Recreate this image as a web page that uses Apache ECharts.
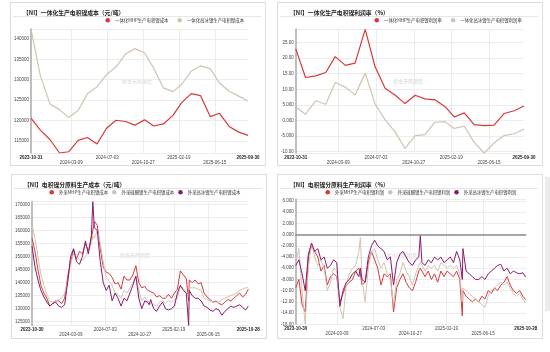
<!DOCTYPE html>
<html>
<head>
<meta charset="utf-8">
<script src="https://cdn.jsdelivr.net/npm/echarts@6/dist/echarts.min.js"></script>
<style>
  html, body { margin: 0; padding: 0; background: #fff; }
  .panel { position: absolute; border: 1px solid #dcdcdc; box-sizing: border-box; background: #fff; }
  .edge { position: absolute; left: 545px; top: 177px; width: 5px; height: 134px; background: #ececec; }
</style>
</head>
<body>
<div id="p1" class="panel" style="left:10px;top:2px;width:256px;height:164px"></div>
<div id="p2" class="panel" style="left:277px;top:2px;width:266px;height:164px"></div>
<div id="p3" class="panel" style="left:11px;top:174px;width:256px;height:165px"></div>
<div id="p4" class="panel" style="left:277px;top:174px;width:266px;height:165px"></div>
<div class="edge"></div>
<script>
// monthly points (top panels)
const monthDates = ["2023-10-31", "2023-11-30", "2023-12-31", "2024-01-31", "2024-02-29", "2024-03-31",
  "2024-04-30", "2024-05-31", "2024-06-30", "2024-07-31", "2024-08-31", "2024-09-30", "2024-10-31",
  "2024-11-30", "2024-12-31", "2025-01-31", "2025-02-28", "2025-03-31", "2025-04-30", "2025-05-31",
  "2025-06-30", "2025-07-31", "2025-08-31", "2025-09-30"];
const mhpCost = [120600, 117700, 115400, 112100, 112400, 115200, 115900, 114300, 118100, 120100, 119800, 118900,
  120200, 118700, 119200, 121300, 124400, 126600, 126100, 121000, 121800, 118600, 117200, 116400];
const matteCost = [142400, 131000, 124100, 122700, 120800, 122500, 126600, 128300, 131200, 133100, 136300, 137600,
  136600, 132800, 128000, 127100, 128900, 132100, 133400, 132700, 129200, 127200, 126000, 124800];
const mhpMargin = [23.0, 13.8, 14.3, 15.4, 20.5, 17.7, 18.4, 29.3, 17.3, 10.3, 8.1, 5.4,
  8.1, 6.9, 6.6, 4.4, 1.1, 2.4, -1.4, -1.7, -1.5, 2.2, 3.1, 4.6];
const matteMargin = [4.3, 2.0, 6.3, 5.2, 12.2, 10.7, 8.2, 15.2, 5.3, 0.2, -3.8, -9.0,
  -4.9, -4.6, -0.6, -0.4, -2.6, -1.9, -7.1, -10.5, -7.3, -4.9, -4.3, -2.8];

// sampled daily points (bottom panels)
const dayDates = ["2023-10-30", "2023-11-09", "2023-11-19", "2023-11-29", "2023-12-09", "2023-12-19", "2023-12-29",
  "2024-01-08", "2024-01-18", "2024-01-28", "2024-02-07", "2024-02-17", "2024-02-27", "2024-03-08", "2024-03-18",
  "2024-03-28", "2024-04-07", "2024-04-17", "2024-04-27", "2024-05-07", "2024-05-17", "2024-05-22", "2024-05-27",
  "2024-06-06", "2024-06-16", "2024-06-26", "2024-07-06", "2024-07-16", "2024-07-26", "2024-08-05", "2024-08-15",
  "2024-08-25", "2024-09-04", "2024-09-14", "2024-09-24", "2024-10-04", "2024-10-14", "2024-10-24", "2024-11-03",
  "2024-11-13", "2024-11-23", "2024-11-28", "2024-12-03", "2024-12-13", "2024-12-23", "2025-01-02", "2025-01-12",
  "2025-01-22", "2025-02-01", "2025-02-11", "2025-02-21", "2025-03-03", "2025-03-13", "2025-03-23", "2025-04-02",
  "2025-04-10", "2025-04-12", "2025-04-22", "2025-05-02", "2025-05-12", "2025-05-22", "2025-06-01", "2025-06-11",
  "2025-06-21", "2025-07-01", "2025-07-11", "2025-07-21", "2025-07-31", "2025-08-10", "2025-08-20", "2025-08-30",
  "2025-09-09", "2025-09-19", "2025-09-29", "2025-10-09", "2025-10-19", "2025-10-28"];
const buyMhpCost = [157000, 152000, 145000, 139000, 136000, 134000, 131000, 132000, 133000, 133000, 132000, 134000,
  142000, 148000, 152500, 149000, 152000, 151000, 155000, 152000, 157000, 160000, 163500, 162000, 153000, 146000,
  144000, 143500, 142000, 139500, 140000, 137500, 142500, 141000, 141000, 143000, 146500, 140000, 138000, 138500,
  137000, 137500, 136500, 136000, 134500, 135000, 134000, 134000, 135500, 134000, 136000, 137500, 144500, 143000,
  141500, 133000, 141000, 140000, 141000, 139500, 140000, 136000, 134500, 133500, 132500, 133000, 132000, 131500,
  132500, 133500, 133000, 134000, 135000, 136000, 134500, 135500, 137500];
const buySulfateCost = [162000, 157000, 150000, 143000, 139000, 135500, 133000, 132500, 133000, 133500, 134000, 136000,
  140000, 147000, 151000, 150000, 149000, 148500, 150000, 152000, 155000, 158000, 157000, 160000, 155000, 148000,
  142000, 140500, 139000, 136000, 135500, 134000, 137000, 136000, 138000, 140000, 142500, 137000, 133000, 134500,
  133000, 132500, 132000, 131500, 131000, 132500, 133000, 132000, 133000, 132500, 133500, 134000, 138500, 138000,
  136000, 134500, 138000, 138000, 138000, 137500, 137000, 134000, 133500, 133000, 132500, 132500, 132500, 133500,
  134000, 134500, 135000, 135500, 136000, 137000, 137500, 138000, 138000];
const buyMatteCost = [154000, 146000, 141000, 137000, 134500, 132500, 131000, 132000, 132500, 131000, 130500, 131500,
  140000, 150000, 153000, 148000, 147000, 150000, 156000, 151000, 158000, 171000, 161000, 160000, 148000, 140000,
  137000, 139000, 133000, 136000, 134000, 131000, 134000, 133000, 136000, 139000, 142500, 134000, 130000, 133000,
  132500, 131500, 133500, 130000, 129000, 131000, 132500, 130000, 129500, 130000, 131000, 136000, 139000, 137000,
  136000, 123600, 137000, 135000, 134000, 134000, 133000, 131000, 130500, 129500, 129000, 130000, 129500, 127500,
  129000, 130000, 131000, 130500, 131000, 131500, 130500, 129500, 131000];
const buyMhpMargin = [-9.5, -8.0, -12.5, -13.8, -4.0, -2.0, -3.0, -4.0, -6.5, -5.5, -9.0, -7.5, -7.0, -7.5, -12.0,
  -10.5, -9.0, -8.5, -8.0, -6.5, -6.0, -7.0, -9.0, -8.5, -5.0, -3.0, -4.5, -6.0, -9.0, -7.0, -7.5, -7.0, -13.8,
  -9.5, -8.0, -7.0, -8.5, -9.5, -10.0, -8.5, -6.5, -6.0, -6.5, -7.5, -6.5, -8.0, -7.0, -8.5, -6.5, -7.5, -6.5,
  -7.0, -7.5, -6.5, -8.0, -14.5, -10.0, -11.0, -11.5, -12.0, -11.5, -12.0, -11.0, -11.5, -10.0, -10.5, -9.5,
  -10.0, -9.0, -8.5, -7.5, -9.0, -10.0, -10.5, -10.0, -11.0, -11.6];
const buySulfateMargin = [-5.0, -2.5, -10.0, -16.0, -6.0, -1.5, -4.0, -5.5, -4.5, -6.0, -10.0, -8.5, -6.0, -6.5,
  -13.0, -15.0, -9.0, -7.0, -6.0, -5.5, -3.0, -0.5, -8.0, -12.0, -6.0, -3.0, -2.5, -4.5, -6.0, -5.0, -7.0, -8.0,
  -12.5, -8.0, -7.0, -5.0, -6.5, -7.5, -9.0, -7.0, -5.5, -5.0, -5.5, -6.5, -5.5, -6.0, -5.5, -6.5, -5.0, -5.5,
  -6.0, -5.5, -6.0, -5.5, -7.0, -12.0, -9.5, -10.0, -10.5, -11.0, -11.5, -12.0, -12.5, -13.0, -11.0, -10.0, -9.5,
  -9.0, -8.5, -9.0, -8.5, -9.5, -10.5, -11.0, -10.5, -11.5, -12.2];
const buyMatteMargin = [-5.5, -4.5, -7.0, -10.0, -3.5, -1.5, -3.0, -2.5, -4.5, -4.0, -6.0, -5.5, -4.5, -5.0, -12.8,
  -10.0, -8.5, -8.0, -7.0, -6.5, -7.5, -6.0, -8.0, -8.5, -4.0, -2.0, -1.0, -2.0, -2.5, -3.0, -4.5, -4.0, -9.0,
  -5.0, -3.5, -3.0, -4.0, -5.0, -5.5, -4.5, -4.0, -0.2, -5.0, -5.5, -4.5, -5.0, -4.0, -4.5, -4.0, -5.0, -4.5,
  -4.0, -5.0, -3.0, -4.5, -8.0, -2.5, -6.5, -7.0, -7.5, -8.0, -8.0, -7.5, -8.0, -7.0, -6.5, -6.0, -5.5, -5.3,
  -6.5, -6.0, -7.0, -6.5, -6.8, -7.0, -6.8, -7.6];

// x-axis tick labels
const midTicks = ["2024-03-09", "2024-07-03", "2024-10-27", "2025-02-19", "2025-06-15"];
const lowerRowTicks = ["2024-03-09", "2024-10-27", "2025-06-15"];

const RED = "#d8383a";
const TAN = "#d0c3b1";
const PURPLE = "#8b1a6c";
const FONT = "'Liberation Sans', 'Noto Sans CJK SC', sans-serif";

// date string <-> timestamp for the value x axis
const ts = (s) => new Date(s + "T00:00:00").getTime();
function fmtDate(v) {
  const d = new Date(v);
  const p = (n) => (n < 10 ? "0" : "") + n;
  return d.getFullYear() + "-" + p(d.getMonth() + 1) + "-" + p(d.getDate());
}
const intFmt = (v) => String(Math.round(v));
const pctFmt = (v) => Number(v).toPrecision(4);

function buildOption(cfg) {
  const xMin = cfg.dates[0];
  const xMax = cfg.dates[cfg.dates.length - 1];
  const tickTs = midTicks.map(ts);
  return {
    animation: false,
    textStyle: { fontFamily: FONT },
    title: {
      text: cfg.title, left: 7, top: 1.5,
      textStyle: { fontSize: 5.8, fontWeight: "bold", color: "#222", fontFamily: "'Noto Sans CJK SC', sans-serif" },
    },
    legend: {
      left: cfg.legendLeft, top: 15, icon: "circle", itemWidth: 4.5, itemHeight: 4.5, itemGap: cfg.legendGap,
      width: 240, padding: 0,
      textStyle: { fontSize: 4.4, color: "#333", fontFamily: "'Noto Sans CJK SC', sans-serif" },
    },
    graphic: [
      { type: "line", shape: { x1: 2, y1: 13.5, x2: cfg.width - 4, y2: 13.5 }, style: { stroke: "#e6e6e6", lineWidth: 1 }, silent: true },
      { type: "text", x: cfg.mark[0], y: cfg.mark[1], z: 0, silent: true,
        style: { text: "紫金天风期货", fill: "#d2d2d2", fontSize: 5, fontFamily: "'Noto Sans CJK SC'", align: "center", verticalAlign: "middle" } },
    ],
    grid: cfg.grid,
    xAxis: {
      type: "value", min: ts(xMin), max: ts(xMax),
      axisLine: { show: !!cfg.zeroLine, onZero: true, lineStyle: { color: "#8c8c8c", width: 1.5 } },
      axisTick: { show: false, customValues: tickTs },
      splitLine: { show: true, lineStyle: { color: "#ececec", width: 1 } },
      axisLabel: {
        customValues: [ts(xMin)].concat(tickTs, [ts(xMax)]),
        fontSize: 4.5, color: "#444", margin: 2, lineHeight: 5, hideOverlap: false,
        formatter: (v) => {
          const s = fmtDate(v);
          if (s === xMin || s === xMax) return "{b|" + s + "}";
          return lowerRowTicks.indexOf(s) >= 0 ? "\n" + s : s;
        },
        rich: { b: { fontSize: 4.5, fontWeight: "bold", color: "#222", lineHeight: 5 } },
      },
    },
    yAxis: Object.assign({
      type: "value",
      axisLine: { show: true, lineStyle: { color: "#a8a8a8", width: 1.5 } },
      axisTick: { show: false },
      splitLine: { lineStyle: { color: "#ececec" } },
      axisLabel: { fontSize: 4.5, color: "#444", margin: 2, showMinLabel: !!cfg.showMin, showMaxLabel: false, formatter: cfg.yFmt },
    }, cfg.yScale),
    series: cfg.series.map((s) => ({
      type: "line", name: s.name, symbol: "none", showSymbol: false,
      data: cfg.dates.map((d, i) => [ts(d), s.values[i]]),
      lineStyle: { width: cfg.lineWidth, color: s.color },
      itemStyle: { color: s.color },
      markLine: s.box ? {
        silent: true, symbol: "none", lineStyle: { opacity: 0 },
        label: {
          position: "start", distance: 3, fontSize: 4.5, color: "#fff",
          backgroundColor: s.box, padding: [1, 1.5],
          formatter: (p) => cfg.yFmt(p.value),
        },
        data: [{ yAxis: s.values[s.values.length - 1] }],
      } : undefined,
    })),
  };
}

const panels = [
  { id: "p1", width: 254, title: "【NI】一体化生产电积镍成本（元/吨）", dates: monthDates, legendLeft: 94.5, legendGap: 9,
    grid: { left: 19.5, right: 17, top: 26, bottom: 11.5 }, mark: [126, 78], yFmt: intFmt, lineWidth: 1.2,
    yScale: { min: "dataMin", max: "dataMax", splitNumber: 5 },
    series: [
      { name: "一体化MHP生产电积镍成本", values: mhpCost, color: RED, box: "#8e1f6e" },
      { name: "一体化高冰镍生产电积镍成本", values: matteCost, color: TAN, box: "#5b5aa8" },
    ] },
  { id: "p2", width: 264, title: "【NI】一体化生产电积镍利润率（%）", dates: monthDates, legendLeft: 96.5, legendGap: 9,
    grid: { left: 17, right: 18, top: 26.3, bottom: 11.7 }, mark: [130, 78], yFmt: pctFmt, lineWidth: 1.2,
    yScale: { min: "dataMin", max: "dataMax", splitNumber: 8 },
    series: [
      { name: "一体化MHP生产电积镍利润率", values: mhpMargin, color: RED, box: "#d8383a" },
      { name: "一体化高冰镍生产电积镍利润率", values: matteMargin, color: TAN, box: "#d6c9b6" },
    ] },
  { id: "p3", width: 254, title: "【NI】电积镍分原料生产成本（元/吨）", dates: dayDates, legendLeft: 37.5, legendGap: 4,
    grid: { left: 18.7, right: 17.7, top: 26.7, bottom: 12.6 }, mark: [123, 80], yFmt: intFmt, lineWidth: 1,
    yScale: { min: "dataMin", max: "dataMax", splitNumber: 9 },
    series: [
      { name: "外采MHP生产电积镍成本", values: buyMhpCost, color: RED },
      { name: "外采硫酸镍生产电积镍成本", values: buySulfateCost, color: TAN },
      { name: "外采高冰镍生产电积镍成本", values: buyMatteCost, color: PURPLE },
    ] },
  { id: "p4", width: 264, title: "【NI】电积镍分原料生产利润率（%）", dates: dayDates, legendLeft: 47.5, legendGap: 4,
    grid: { left: 17, right: 16.3, top: 24.3, bottom: 13.7 }, mark: [124, 80], yFmt: pctFmt, lineWidth: 1,
    yScale: { min: -16, max: 6.3, interval: 2 }, showMin: true, zeroLine: true,
    series: [
      { name: "外采MHP生产电积镍利润", values: buyMhpMargin, color: RED, box: "#ff3fc8" },
      { name: "外采硫酸镍生产电积镍利润", values: buySulfateMargin, color: TAN, box: "#62cf3e" },
      { name: "外采高冰镍生产电积镍利润", values: buyMatteMargin, color: PURPLE, box: "#4f94d8" },
    ] },
];

panels.forEach((cfg) => {
  const chart = echarts.init(document.getElementById(cfg.id), null, { renderer: "canvas" });
  chart.setOption(buildOption(cfg));
});
</script>
</body>
</html>
